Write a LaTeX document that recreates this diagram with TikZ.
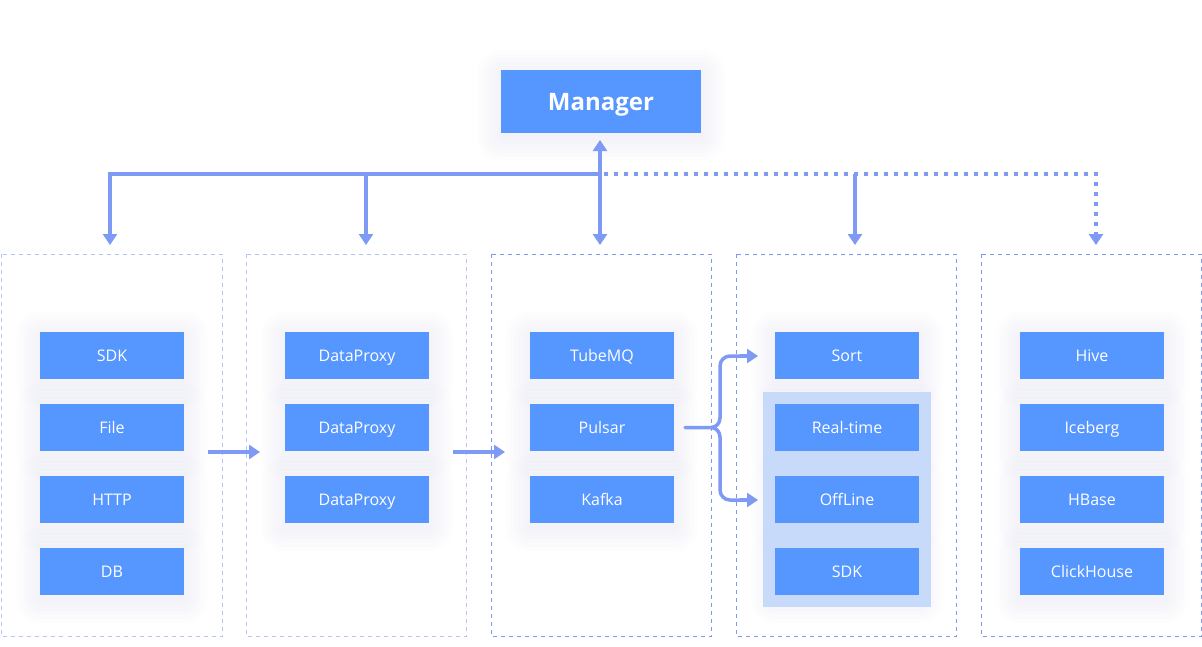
\documentclass[tikz,border=0pt]{standalone}
\usepackage{fontspec}
\setmainfont{Open Sans}
\usetikzlibrary{arrows.meta,backgrounds}
\definecolor{boxblue}{HTML}{5596FF}
\definecolor{arrowblue}{HTML}{7E9AF4}
\definecolor{lightframe}{HTML}{B5C7F8}
\definecolor{darkframe}{HTML}{7F97F0}
\definecolor{groupbg}{HTML}{C8DAF9}
\definecolor{glowc}{HTML}{5A6A9A}
\tikzset{
  itembox/.style={fill=boxblue, draw=none, minimum width=144pt, minimum height=47pt, inner sep=0pt,
    text=white, font=\fontsize{16}{18}\selectfont, text height=11.4pt, text depth=0pt},
  mgrbox/.style={itembox, minimum width=200pt, minimum height=63pt, font=\fontsize{24}{28}\selectfont\bfseries, text height=17.1pt},
  frameA/.style={draw=lightframe, line width=1pt, dash pattern=on 4pt off 4pt},
  frameB/.style={draw=darkframe, line width=1pt, dash pattern=on 4pt off 4pt},
  conn/.style={draw=arrowblue, line width=3.5pt},
  tip/.style={-{Triangle[width=14pt,length=11pt]}},
  dotconn/.style={conn, line width=4pt, dash pattern=on 4pt off 6pt},
  glowlayer/.style={fill=glowc, fill opacity=0.009, draw=none},
}
\newcommand\myglow[1]{%
  \foreach \r in {4,8,12,16,20,24}{%
    \fill[glowlayer, rounded corners=\r pt] ([xshift=-\r pt, yshift=-\r pt-4pt]#1.south west) rectangle ([xshift=\r pt, yshift=\r pt-4pt]#1.north east);
  }}
\begin{document}
\begin{tikzpicture}[x=1pt,y=-1pt]
\useasboundingbox (0,0) rectangle (1202,646);
% manager
\node[mgrbox] (mgr) at (601,101.5) {Manager};
% items
\node[itembox] (c1a) at (112,355.5) {SDK};
\node[itembox] (c1b) at (112,427.5) {File};
\node[itembox] (c1c) at (112,499.5) {HTTP};
\node[itembox] (c1d) at (112,571.5) {DB};
\node[itembox] (c2a) at (357,355.5) {DataProxy};
\node[itembox] (c2b) at (357,427.5) {DataProxy};
\node[itembox] (c2c) at (357,499.5) {DataProxy};
\node[itembox] (c3a) at (602,355.5) {TubeMQ};
\node[itembox] (c3b) at (602,427.5) {Pulsar};
\node[itembox] (c3c) at (602,499.5) {Kafka};
\node[itembox] (c4a) at (847,355.5) {Sort};
\node[itembox] (c4b) at (847,427.5) {Real-time};
\node[itembox] (c4c) at (847,499.5) {OffLine};
\node[itembox] (c4d) at (847,571.5) {SDK};
\node[itembox] (c5a) at (1092,355.5) {Hive};
\node[itembox] (c5b) at (1092,427.5) {Iceberg};
\node[itembox] (c5c) at (1092,499.5) {HBase};
\node[itembox] (c5d) at (1092,571.5) {ClickHouse};
\begin{scope}[on background layer]
\fill[white] (0,0) rectangle (1202,646);
% frames
\path[frameA] (1.5,254) rectangle (222,636);
\path[frameA] (246,254) rectangle (466.5,636);
\path[frameB] (491,254) rectangle (711.5,636);
\path[frameB] (736,254) rectangle (956.5,636);
\path[frameB] (981,254) rectangle (1201.5,636);
\foreach \n in {mgr,c1a,c1b,c1c,c1d,c2a,c2b,c2c,c3a,c3b,c3c,c4a,c4b,c4c,c4d,c5a,c5b,c5c,c5d}{\myglow{\n}}
% highlighted group
\fill[groupbg] (763,392) rectangle (931,607);
\end{scope}
% coordinates for the manager bus
\coordinate (bL) at (110,174);
\coordinate (bM) at (600,174);
\coordinate (t1) at (110,245);
\coordinate (t2) at (366,245);
\coordinate (t3) at (600,245);
\coordinate (t4) at (855,245);
\coordinate (t5) at (1096,245);
\coordinate (m2) at (366,174);
\coordinate (m4) at (855,174);
\coordinate (mtop) at (600,140);
% bus
\draw[conn, tip] (bM) -- (bL) -- (t1);
\draw[conn, tip] (m2) -- (t2);
\draw[conn, tip] (m4) -- (t4);
\draw[conn, {Triangle[width=14pt,length=11pt]}-{Triangle[width=14pt,length=11pt]}] (mtop) -- (t3);
\draw[dotconn] (604,174) -- (1096,174) -- (1096,236);
\draw[conn, tip] (1096,235) -- (t5);
% column arrows
\coordinate (a1s) at (208,452);
\coordinate (a1e) at (260,452);
\coordinate (a2s) at (453,452);
\coordinate (a2e) at (505,452);
\draw[conn, tip] (a1s) -- (a1e);
\draw[conn, tip] (a2s) -- (a2e);
% bracket
\coordinate (bs) at (685,427.5);
\coordinate (bt) at (758,356);
\coordinate (bb) at (758,500);
\draw[conn, line cap=round] (bs) -- (711,427.5) to[out=0,in=-90] (720,418) -- (720,366) to[out=90,in=180] (730,356) -- (745,356);
\draw[conn, line cap=round] (711,427.5) to[out=0,in=90] (720,437) -- (720,490) to[out=-90,in=180] (730,500) -- (745,500);
\draw[conn, tip] (740,356) -- (bt);
\draw[conn, tip] (740,500) -- (bb);
\end{tikzpicture}
\end{document}
